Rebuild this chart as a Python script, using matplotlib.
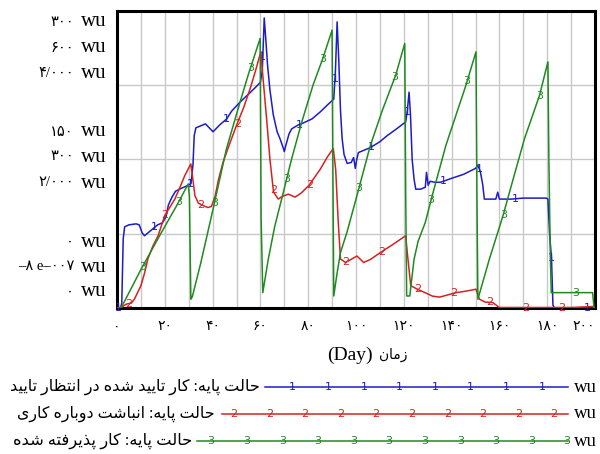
import numpy as np
import matplotlib
matplotlib.use('Agg')
import matplotlib.pyplot as plt
from matplotlib.lines import Line2D

# ---------------- data ----------------
blue_day = [0, 1.5, 2.0, 2.6, 3.2, 5, 8, 9.3, 10.5, 11.5, 13, 15, 17, 19, 20.5, 21.5, 23, 24.5, 27, 29.8,
            31, 31.8, 32.3, 33, 35, 37, 39, 40.2, 43, 45.9, 48, 51.5, 55, 58, 60, 60.8, 61.6, 62.3, 63,
            64, 65.4, 67, 68.2, 69.5, 70, 70.5, 72, 73.1, 75.9, 78, 81.6, 85, 88, 90.7, 91.4, 92.1, 92.8,
            93.5, 94.2, 95, 96.3, 98, 99, 99.7, 100.3, 101, 104, 106, 110, 113, 117, 120.8, 121.5, 122.2,
            122.8, 123.5, 124.3, 125, 127, 129, 129.5, 130.2, 131, 133, 135.4, 140, 145, 150, 151, 152,
            153, 153.7, 158.5, 159.3, 160, 165, 170, 175, 179.6, 180.3, 181, 181.8, 182.4, 183, 200]
blue_val = [0, 0, 5, 70, 82, 84, 85, 84, 76, 73, 76, 80, 84, 86, 92, 104, 112, 118, 121, 124,
            126, 145, 174, 182, 184, 186, 181, 178, 185, 191, 199, 208, 216, 223, 228, 240, 293, 270, 245,
            220, 195, 178, 171, 162, 158, 163, 176, 181, 185, 187, 191, 198, 205, 211, 240, 289, 250,
            200, 171, 155, 146, 147, 152, 141, 150, 157, 160, 162, 168, 174, 181, 188, 200, 218,
            195, 150, 130, 120, 120, 122, 137, 124, 128, 127, 127, 131, 135, 141, 144, 138,
            125, 110, 110, 117, 110, 110, 111, 111, 111, 110, 75, 50, 3, 0, 0]

red_day = [0, 2, 4, 6, 7.3, 10, 11.5, 12.9, 15, 17.2, 20, 24.2, 26, 28.4, 30.9, 31.5, 32.6, 34, 36, 38,
           39.5, 41, 42.5, 44.4, 47, 50, 53, 55.7, 58, 60.2, 61, 62.7, 64, 65.5, 67.5, 69, 71.7, 74.5,
           77, 80.2, 85, 88, 90.5, 91.5, 92.5, 93.5, 95.6, 97.5, 100.4, 103.2, 106, 110.2, 115, 120.8,
           121.5, 122.9, 125.7, 128, 132, 135, 141.8, 146, 150.2, 151.6, 154, 157.2, 160, 170, 180,
           185, 190, 195, 199, 200]
red_val = [0, 2, 8, 10, 18, 45, 70, 99, 125, 146, 187, 220, 240, 268, 291, 270, 227, 212, 207, 203,
           205, 225, 260, 295, 330, 369, 405, 443, 480, 518, 470, 376, 300, 234, 220, 225, 230, 224,
           232, 247, 280, 305, 322, 280, 180, 99, 92, 97, 105, 92, 98, 112, 127, 146,
           110, 45, 38, 33, 24, 22, 31, 34, 38, 18, 12, 11, 1, 1, 1,
           1, 1, 2, 3, 0]

green_day = [0, 1.7, 10.1, 18.6, 25, 29.8, 30.3, 30.9, 31.5, 35, 40.2, 45.8, 51.5, 55, 59.9, 60.3, 61,
             63.3, 66, 69.6, 73, 77.3, 82, 86, 90, 90.3, 90.7, 92, 93.5, 96.2, 100.4, 106, 111, 116.6,
             120.4, 120.8, 121.2, 122.5, 124.3, 126, 129, 131.9, 137.6, 146, 150.2, 150.6, 151, 155.8,
             161.5, 165, 170.5, 176.8, 180.3, 180.7, 181.3, 181.7, 199, 199.6, 200]
green_val = [0, 0, 523, 1018, 1380, 1671, 1500, 118, 150, 600, 1333, 2144, 2775, 3150, 3631, 1200, 207,
             658, 1100, 1558, 2000, 2504, 3000, 3350, 3743, 2000, 162, 450, 747, 1018, 1514, 2189, 2660, 3135,
             3563, 1500, 162, 162, 658, 900, 1153, 1514, 2189, 3000, 3450, 1500, 118, 658,
             1243, 1649, 2280, 2865, 3315, 2000, 700, 207, 207, 0, 0]

scales = [300, 600, 4000]
bottom_labels = ['0', '-8 e-007', '0']
x_ticks = list(range(0, 201, 20))
series_numbers = ['1', '2', '3']
legend_labels = ['حالت پایه: کار تایید شده در انتظار تایید',
                 'حالت پایه: انباشت دوباره کاری',
                 'حالت پایه: کار پذیرفته شده']
x_label_fa = 'زمان'
x_label_en = '(Day)'
unit = 'wu'

# ---------------- helpers ----------------
FA_DIGITS = str.maketrans('0123456789-', '۰۱۲۳۴۵۶۷۸۹–')


def fa_num(s):
    return s.translate(FA_DIGITS)


FORMS = {
    'ا': ('\uFE8D', '\uFE8E', None, None),
    'ب': ('\uFE8F', '\uFE90', '\uFE91', '\uFE92'),
    'پ': ('\uFB56', '\uFB57', '\uFB58', '\uFB59'),
    'ت': ('\uFE95', '\uFE96', '\uFE97', '\uFE98'),
    'ح': ('\uFEA1', '\uFEA2', '\uFEA3', '\uFEA4'),
    'د': ('\uFEA9', '\uFEAA', None, None),
    'ذ': ('\uFEAB', '\uFEAC', None, None),
    'ر': ('\uFEAD', '\uFEAE', None, None),
    'ز': ('\uFEAF', '\uFEB0', None, None),
    'ش': ('\uFEB5', '\uFEB6', '\uFEB7', '\uFEB8'),
    'ظ': ('\uFEC5', '\uFEC6', '\uFEC7', '\uFEC8'),
    'ف': ('\uFED1', '\uFED2', '\uFED3', '\uFED4'),
    'ک': ('\uFB8E', '\uFB8F', '\uFB90', '\uFB91'),
    'ل': ('\uFEDD', '\uFEDE', '\uFEDF', '\uFEE0'),
    'م': ('\uFEE1', '\uFEE2', '\uFEE3', '\uFEE4'),
    'ن': ('\uFEE5', '\uFEE6', '\uFEE7', '\uFEE8'),
    'ه': ('\uFEE9', '\uFEEA', '\uFEEB', '\uFEEC'),
    'و': ('\uFEED', '\uFEEE', None, None),
    'ی': ('\uFBFC', '\uFBFD', '\uFBFE', '\uFBFF'),
}


def shape_rtl(s):
    out = []
    for i, c in enumerate(s):
        if c not in FORMS:
            out.append(c)
            continue
        prev = s[i - 1] if i > 0 else ''
        nxt = s[i + 1] if i + 1 < len(s) else ''
        jp = prev in FORMS and FORMS[prev][2] is not None
        jn = FORMS[c][2] is not None and nxt in FORMS
        iso, fin, ini, med = FORMS[c]
        if jp and jn:
            out.append(med)
        elif jp:
            out.append(fin)
        elif jn:
            out.append(ini)
        else:
            out.append(iso)
    return ''.join(reversed(out))


FAM = ['Liberation Serif', 'DejaVu Sans']
colors = ['#1c1cc8', '#d42222', '#1f8a1f']

# ---------------- figure ----------------
W, H = 600, 454
fig = plt.figure(figsize=(W / 100, H / 100), dpi=100)
L, R, T, B = 117, 595, 11, 308
ax = fig.add_axes([L / W, 1 - B / H, (R - L) / W, (B - T) / H])
ax2 = ax.twinx()
ax3 = ax.twinx()
axes = [ax, ax2, ax3]

for a, s in zip(axes, scales):
    a.set_ylim(0, s)
    a.set_xlim(0, 200)
for a in (ax2, ax3):
    a.axis('off')

ax.set_yticks(np.linspace(0, scales[0], 5))
ax.set_yticklabels([])
ax.set_xticks(x_ticks)
ax.set_xticks(np.arange(0, 201, 10), minor=True)
xlabels = ax.set_xticklabels([fa_num(str(v)) for v in x_ticks], family=FAM, fontsize=10)
xlabels[-1].set_horizontalalignment('right')
xlabels[-1].set_x(200)
ax.tick_params(axis='both', which='both', length=0)
ax.tick_params(axis='x', pad=9)
ax.grid(True, which='both', color='#c8c8c8', linewidth=1.0)
ax.set_axisbelow(True)
for sp in ax.spines.values():
    sp.set_linewidth(2.2)
    sp.set_color('black')

series = [(blue_day, blue_val), (red_day, red_val), (green_day, green_val)]
for a, (d, v), c in zip(axes, series, colors):
    a.plot(d, v, color=c, linewidth=1.1, zorder=3)

# numbered markers along the lines
mark_starts = [0.6, 5.0, 10.6]
for a, (d, v), c, num, st in zip(axes, series, colors, series_numbers, mark_starts):
    md = np.arange(st, 201, 15.1)
    md = np.clip(md, 0, 199.6)
    mv = np.interp(md, d, v)
    for xx, yy in zip(md, mv):
        a.text(xx, yy, num, color=c, fontsize=8, ha='center', va='center',
               family='DejaVu Sans', zorder=4)

# y labels (three stacked scales): number + unit
tops = [fa_num(f'{s:,}'.replace(',', '/')) for s in scales]
mids = [fa_num(f'{s // 2:,}'.replace(',', '/')) for s in scales]
bots = [fa_num(b) for b in bottom_labels]
ypx_groups = [[22, 48, 74], [132, 157, 183], [242, 267, 292]]
for group, ypx in zip([tops, mids, bots], ypx_groups):
    for lab, yp in zip(group, ypx):
        yf = 1 - yp / H
        fig.text(74 / W, yf, lab, ha='right', va='center', family=FAM, fontsize=10.5)
        fig.text(81 / W, yf, unit, ha='left', va='center', family=FAM, fontsize=15)

# x label
fig.text(373 / W, 1 - 355 / H, x_label_en, ha='right', va='center', family=FAM, fontsize=14)
fig.text(379 / W, 1 - 355 / H, shape_rtl(x_label_fa), ha='left', va='center', family=FAM, fontsize=10)

# legend
rows_y = [387, 414, 441]
text_start = [9, 17, 13]
text_end = [260, 215, 192]
line_start = [265, 222, 197]
line_end = 568
first_mark = [542, 554, 567]
n_marks = [8, 10, 11]
fig.canvas.draw()
rend = fig.canvas.get_renderer()
for i in range(3):
    yf = 1 - rows_y[i] / H
    t = fig.text(text_end[i] / W, yf, shape_rtl(legend_labels[i]), ha='right', va='center',
                 family=FAM, fontsize=11)
    w = t.get_window_extent(rend).width
    t.set_fontsize(11 * (text_end[i] - text_start[i]) / w)
    fig.add_artist(Line2D([line_start[i] / W, line_end / W], [yf, yf], transform=fig.transFigure,
                          color=colors[i], linewidth=1.1))
    for k in range(n_marks[i]):
        fig.text((first_mark[i] - 35.6 * k) / W, yf, series_numbers[i], color=colors[i], fontsize=8,
                 ha='center', va='center', family='DejaVu Sans')
    fig.text(574 / W, yf, unit, ha='left', va='center', family=FAM, fontsize=13.5)

fig.savefig('out.png', dpi=100)
